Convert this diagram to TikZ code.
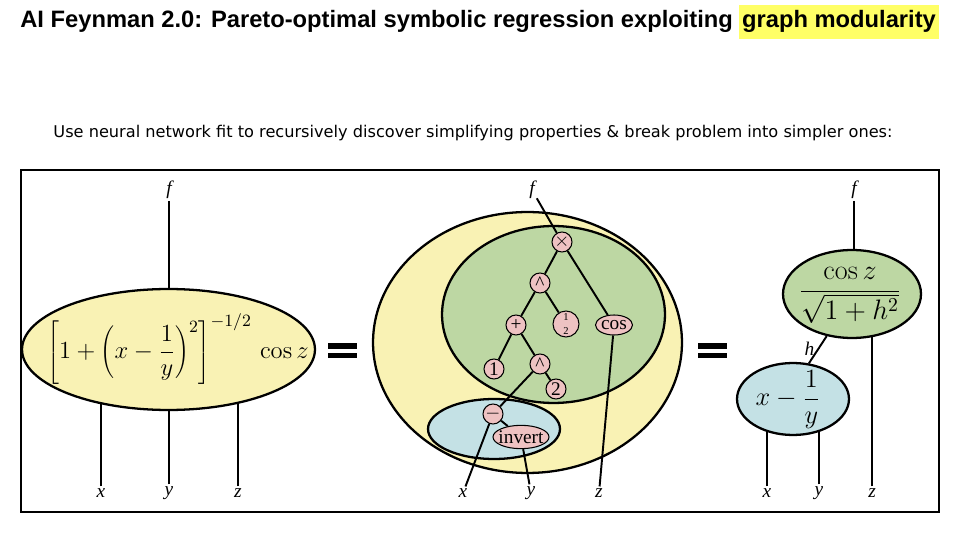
\RequirePackage{fix-cm}
\documentclass[tikz,border=0pt]{standalone}
\usepackage{fontspec}
\newfontfamily\titrefont{Liberation Sans}
\newfontfamily\soustitrefont{DejaVu Sans}
\newfontfamily\arbrefont{Liberation Serif}
\usetikzlibrary{positioning,shapes.geometric}
\definecolor{jaune}{RGB}{249,242,180}
\definecolor{vert}{RGB}{189,215,163}
\definecolor{bleu}{RGB}{196,225,229}
\definecolor{rose}{RGB}{238,194,194}
\definecolor{fluo}{RGB}{255,255,102}
\pgfdeclarelayer{fond}
\pgfdeclarelayer{liens}
\pgfsetlayers{fond,liens,main}

\begin{document}
\begin{tikzpicture}[
    x=0.02cm, y=-0.02cm,   % une unité = un pixel
    trait/.style={line width=1.1pt},
    bulle/.style={ellipse, draw, line width=1.3pt, inner sep=0pt},
    op/.style={circle, draw, fill=rose, line width=0.6pt, minimum size=0.4cm,
        inner sep=0pt, font=\arbrefont\fontsize{11}{12}\selectfont},
    fct/.style={op, ellipse, inner xsep=-2.5pt, inner ysep=1pt},
    var/.style={inner sep=1pt, font=\arbrefont\itshape\fontsize{11}{12}\selectfont},
    formule/.style={inner sep=0pt}
]
\useasboundingbox (0,0) rectangle (960,540);

% Titre
\node[anchor=base west, inner sep=0pt, font=\titrefont\bfseries\fontsize{13.5}{15}\selectfont]
    (titre) at (20,28) {AI Feynman 2.0: Pareto-optimal symbolic regression exploiting};
\node[right=0.1cm of titre, fill=fluo, inner xsep=2pt, inner ysep=3.5pt,
    font=\titrefont\bfseries\fontsize{13.5}{15}\selectfont] (surligne) {graph modularity};
\node[font=\soustitrefont\fontsize{9.2}{11}\selectfont] (soustitre) at (473,133)
    {Use neural network fit to recursively discover simplifying properties \& break problem into simpler ones:};

% Panneau de gauche
\node[bulle, fill=jaune, minimum width=5.86cm, minimum height=2.42cm] (gauche) at (168.5,349.5) {};
\node[formule, font=\fontsize{14}{16}\selectfont] (formuleG) at (178,349)
    {$\displaystyle\left[1+\left(x-\frac{1}{y}\right)^{2}\right]^{-1/2}\,\cos z$};
\node[var] (Gf) at (169,190) {f};
\foreach \lab/\px in {x/101, y/169, z/238}
    \node[var] (G\lab) at (\px,493) {\lab};

% Panneau du milieu : les modules
\begin{pgfonlayer}{fond}
\node[bulle, fill=jaune, minimum width=6.18cm, minimum height=5.22cm] (jauneM) at (527.5,342.5) {};
\node[bulle, fill=vert, minimum width=4.46cm, minimum height=3.54cm] (vertM) at (553.5,314.5) {};
\node[bulle, fill=bleu, minimum width=2.64cm, minimum height=1.2cm] (bleuM) at (494,429) {};
\end{pgfonlayer}
% l'arbre
\node[op] (mul) at (562,242) {$\times$};
\node[op] (puiss) at (540,283) {\textasciicircum};
\node[op] (plus) at (516,325) {+};
\node[op, minimum size=0.52cm] (demi) at (566,324)
    {\shortstack{\fontsize{6}{6}\selectfont 1\\[1pt]\fontsize{6}{6}\selectfont 2}};
\node[fct, minimum width=0.74cm, minimum height=0.4cm] (cos) at (614,325) {cos};
\node[op] (un) at (494,369) {1};
\node[op] (carre) at (540,364) {\textasciicircum};
\node[op] (deux) at (556,389) {2};
\node[op] (moins) at (493,414) {$-$};
\node[fct, minimum width=1.12cm, minimum height=0.44cm] (inv) at (521,437) {invert};
\node[var] (Mf) at (532,190) {f};
\node[var] (Mx) at (463,493) {x};
\node[var] (My) at (531,493) {y};
\node[var] (Mz) at (599,493) {z};

% Panneau de droite
\node[bulle, fill=vert, minimum width=2.76cm, minimum height=1.76cm] (vertD) at (852,294) {};
\node[bulle, fill=bleu, minimum width=2.24cm, minimum height=1.44cm] (bleuD) at (793,399) {};
\node[formule, font=\fontsize{16}{18}\selectfont] (formuleV) at (850,295)
    {$\displaystyle\frac{\cos z}{\sqrt{1+h^{2}}}$};
\node[formule, font=\fontsize{15}{17}\selectfont] (formuleB) at (788,400)
    {$\displaystyle x-\frac{1}{y}$};
\node[var] (Df) at (854,190) {f};
\foreach \lab/\px in {x/767, y/819, z/872}
    \node[var] (D\lab) at (\px,493) {\lab};

% Les liens
\begin{pgfonlayer}{liens}
\draw[trait] (Gf) -- (Gf |- gauche.center);
\foreach \lab in {x,y,z}
    \draw[trait] (G\lab) -- (G\lab |- gauche.center);
\foreach \a/\b in {Mf/mul, mul/puiss, mul/cos, puiss/plus, puiss/demi, plus/un, plus/carre,
    carre/deux, carre/moins, moins/inv, moins/Mx, inv/My, cos/Mz}
    \draw[trait] (\a) -- (\b);
\draw[trait] (Df) -- (Df |- vertD.center);
\draw[trait] (Dx) -- (Dx |- bleuD.center);
\draw[trait] (Dy) -- (Dy |- bleuD.center);
\draw[trait] (Dz) -- (Dz |- vertD.center);
\draw[trait] (bleuD.66) -- (vertD.239) node[var, pos=0.55, left=1pt] (h) {h};
\end{pgfonlayer}

% Signes égal
\foreach \px in {328, 698} {
    \fill (\px,343) rectangle ++(29,6);
    \fill (\px,353) rectangle ++(29,5);
}

% Cadre
\draw[line width=1.1pt] (21,170) rectangle (939,512);
\end{tikzpicture}
\end{document}
